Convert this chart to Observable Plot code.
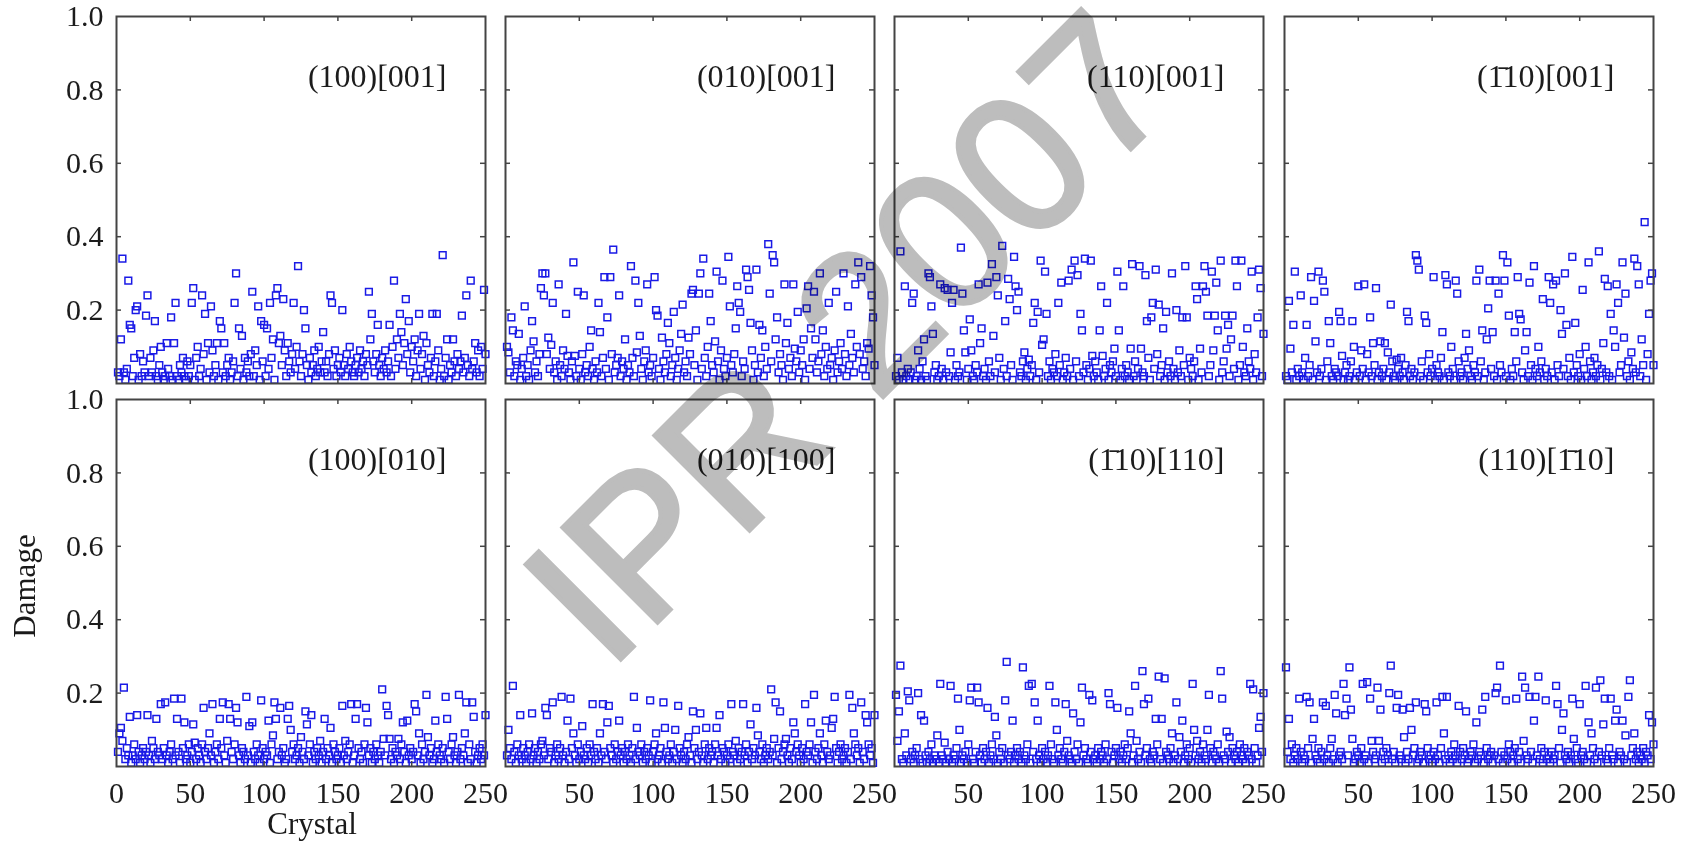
<!DOCTYPE html>
<html>
<head>
<meta charset="utf-8">
<script src="https://cdn.jsdelivr.net/npm/d3@7"></script>
<script src="https://cdn.jsdelivr.net/npm/@observablehq/plot@0.6"></script>
<style>
  html, body { margin: 0; padding: 0; background: #fff; }
  #fig { position: relative; width: 1688px; height: 847px; background: #fff; overflow: hidden; font-family: "Liberation Serif", "Times New Roman", serif; color: #1a1a1a; }
  #fig > svg, #fig > div { position: absolute; }
</style>
</head>
<body>
<div id="fig"></div>
<script>
// ---- data ----
const panelLabels = ["(100)[001]", "(010)[001]", "(110)[001]", "(1\u030410)[001]",
                     "(100)[010]", "(010)[100]", "(1\u030410)[110]", "(110)[1\u030410]"];
const xTicks = [0, 50, 100, 150, 200, 250];
const yTicks = [0.2, 0.4, 0.6, 0.8, 1.0];
const xAxisLabel = "Crystal";
const yAxisLabel = "Damage";
const watermark = "IPR 2007";

const damage100_001 = [
0.03,0.02,0.12,0.34,0.03,0.01,0.04,0.28,0.16,0.15,
0.02,0.07,0.20,0.21,0.01,0.08,0.02,0.06,0.03,0.185,
0.24,0.02,0.07,0.03,0.09,0.17,0.02,0.01,0.05,0.10,
0.03,0.01,0.02,0.11,0.04,0.02,0.18,0.01,0.11,0.22,
0.02,0.01,0.05,0.03,0.07,0.02,0.01,0.06,0.02,0.05,
0.22,0.26,0.01,0.07,0.10,0.02,0.04,0.24,0.08,0.19,
0.01,0.11,0.03,0.21,0.09,0.02,0.05,0.11,0.01,0.17,
0.15,0.03,0.11,0.02,0.05,0.07,0.01,0.03,0.06,0.22,
0.30,0.02,0.15,0.04,0.13,0.01,0.07,0.03,0.06,0.02,
0.08,0.25,0.02,0.09,0.05,0.21,0.01,0.17,0.06,0.16,
0.02,0.15,0.04,0.22,0.07,0.12,0.01,0.24,0.26,0.11,
0.13,0.05,0.23,0.09,0.02,0.11,0.06,0.03,0.08,0.22,
0.04,0.10,0.32,0.06,0.02,0.08,0.20,0.15,0.05,0.01,
0.07,0.03,0.05,0.09,0.02,0.04,0.10,0.03,0.06,0.14,
0.03,0.06,0.02,0.08,0.24,0.22,0.04,0.09,0.02,0.05,
0.07,0.03,0.20,0.05,0.02,0.08,0.04,0.10,0.06,0.03,
0.02,0.05,0.07,0.03,0.09,0.04,0.06,0.02,0.08,0.05,
0.25,0.12,0.19,0.06,0.03,0.08,0.16,0.05,0.02,0.07,
0.04,0.09,0.03,0.06,0.16,0.02,0.10,0.28,0.04,0.12,
0.07,0.19,0.14,0.05,0.11,0.23,0.08,0.17,0.03,0.10,
0.06,0.12,0.02,0.09,0.19,0.04,0.08,0.13,0.01,0.11,
0.05,0.03,0.07,0.19,0.02,0.06,0.19,0.09,0.01,0.04,
0.35,0.02,0.07,0.12,0.01,0.05,0.03,0.12,0.06,0.02,
0.08,0.04,0.06,0.185,0.03,0.07,0.24,0.05,0.02,0.28,
0.04,0.06,0.11,0.03,0.09,0.02,0.10,0.04,0.255,0.08];

const damage010_001 = [
0.10,0.085,0.03,0.18,0.145,0.02,0.06,0.05,0.135,0.01,
0.04,0.07,0.21,0.02,0.05,0.01,0.09,0.17,0.115,0.03,
0.06,0.02,0.08,0.26,0.30,0.24,0.30,0.08,0.125,0.04,
0.105,0.22,0.03,0.06,0.01,0.27,0.05,0.02,0.09,0.04,
0.19,0.075,0.03,0.01,0.06,0.33,0.075,0.02,0.25,0.04,
0.01,0.08,0.24,0.03,0.05,0.02,0.10,0.145,0.04,0.01,
0.06,0.03,0.22,0.14,0.02,0.07,0.29,0.04,0.18,0.01,
0.29,0.08,0.365,0.03,0.05,0.07,0.24,0.02,0.06,0.04,
0.12,0.01,0.05,0.03,0.32,0.07,0.02,0.28,0.085,0.22,
0.13,0.04,0.01,0.06,0.09,0.27,0.03,0.05,0.02,0.07,
0.29,0.20,0.185,0.04,0.01,0.125,0.06,0.03,0.08,0.165,
0.11,0.02,0.05,0.195,0.07,0.01,0.04,0.09,0.135,0.215,
0.03,0.06,0.02,0.125,0.08,0.245,0.255,0.05,0.145,0.01,
0.245,0.30,0.04,0.34,0.07,0.02,0.10,0.245,0.17,0.05,
0.03,0.115,0.305,0.06,0.01,0.09,0.28,0.04,0.02,0.07,
0.345,0.21,0.05,0.03,0.08,0.15,0.265,0.22,0.195,0.02,
0.06,0.04,0.31,0.29,0.255,0.165,0.09,0.01,0.05,0.31,
0.03,0.16,0.07,0.145,0.02,0.10,0.04,0.38,0.245,0.06,
0.35,0.33,0.12,0.18,0.03,0.08,0.05,0.01,0.27,0.11,
0.165,0.04,0.07,0.02,0.27,0.095,0.06,0.195,0.03,0.09,
0.05,0.12,0.01,0.205,0.265,0.04,0.15,0.07,0.25,0.12,
0.03,0.06,0.30,0.08,0.145,0.02,0.10,0.04,0.22,0.05,
0.07,0.01,0.09,0.25,0.03,0.06,0.11,0.04,0.30,0.08,
0.02,0.21,0.05,0.135,0.07,0.03,0.27,0.10,0.33,0.08,
0.29,0.04,0.06,0.02,0.11,0.095,0.32,0.24,0.18,0.05];

const damage110_001 = [
0.02,0.07,0.01,0.36,0.03,0.01,0.265,0.02,0.04,0.01,
0.03,0.22,0.245,0.01,0.02,0.09,0.04,0.01,0.06,0.12,
0.02,0.01,0.30,0.29,0.21,0.135,0.03,0.05,0.01,0.02,
0.27,0.04,0.01,0.26,0.03,0.255,0.02,0.085,0.22,0.255,
0.01,0.05,0.02,0.03,0.37,0.245,0.145,0.085,0.01,0.04,
0.175,0.09,0.02,0.01,0.05,0.03,0.27,0.11,0.15,0.02,
0.04,0.01,0.275,0.06,0.02,0.325,0.13,0.03,0.29,0.24,
0.07,0.01,0.375,0.04,0.17,0.02,0.285,0.23,0.05,0.01,
0.345,0.265,0.20,0.25,0.03,0.02,0.06,0.085,0.01,0.04,
0.065,0.02,0.05,0.165,0.22,0.01,0.195,0.03,0.335,0.105,
0.12,0.305,0.19,0.02,0.06,0.01,0.04,0.03,0.08,0.02,
0.22,0.05,0.275,0.01,0.03,0.07,0.02,0.28,0.04,0.31,
0.01,0.335,0.06,0.295,0.02,0.19,0.145,0.03,0.34,0.05,
0.01,0.04,0.335,0.075,0.02,0.06,0.03,0.01,0.145,0.265,
0.075,0.02,0.04,0.22,0.01,0.05,0.03,0.06,0.095,0.02,
0.305,0.145,0.01,0.04,0.265,0.02,0.05,0.03,0.01,0.095,
0.325,0.02,0.06,0.01,0.04,0.32,0.095,0.03,0.02,0.295,
0.17,0.07,0.01,0.18,0.22,0.04,0.31,0.08,0.215,0.02,
0.05,0.15,0.01,0.195,0.03,0.06,0.02,0.30,0.04,0.01,
0.20,0.03,0.09,0.02,0.18,0.05,0.32,0.18,0.01,0.07,
0.04,0.02,0.06,0.265,0.23,0.01,0.095,0.03,0.265,0.32,
0.25,0.185,0.02,0.05,0.305,0.09,0.185,0.275,0.145,0.01,
0.335,0.03,0.06,0.185,0.095,0.16,0.02,0.12,0.185,0.04,
0.335,0.265,0.01,0.05,0.335,0.10,0.03,0.02,0.15,0.06,
0.04,0.305,0.01,0.08,0.03,0.18,0.31,0.26,0.02,0.135];

const damage1b10_001 = [
0.02,0.01,0.225,0.095,0.03,0.16,0.305,0.01,0.04,0.02,
0.24,0.03,0.01,0.07,0.16,0.02,0.05,0.29,0.01,0.225,
0.115,0.03,0.305,0.02,0.04,0.28,0.25,0.01,0.06,0.17,
0.11,0.02,0.01,0.04,0.03,0.02,0.195,0.17,0.075,0.01,
0.03,0.05,0.01,0.02,0.06,0.17,0.10,0.01,0.03,0.265,
0.02,0.09,0.04,0.27,0.01,0.08,0.03,0.18,0.02,0.11,
0.05,0.26,0.01,0.03,0.115,0.02,0.04,0.11,0.01,0.085,
0.03,0.215,0.06,0.02,0.01,0.065,0.04,0.02,0.07,0.03,
0.01,0.05,0.195,0.17,0.02,0.04,0.01,0.03,0.35,0.335,
0.31,0.02,0.06,0.01,0.185,0.165,0.03,0.08,0.02,0.04,
0.29,0.01,0.05,0.03,0.02,0.07,0.14,0.01,0.295,0.27,
0.03,0.02,0.10,0.04,0.01,0.28,0.245,0.06,0.02,0.03,
0.01,0.07,0.135,0.04,0.09,0.02,0.01,0.05,0.03,0.28,
0.02,0.31,0.06,0.145,0.01,0.03,0.12,0.205,0.28,0.04,
0.14,0.02,0.28,0.01,0.245,0.05,0.03,0.35,0.28,0.02,
0.33,0.185,0.01,0.04,0.02,0.14,0.06,0.29,0.19,0.175,
0.03,0.01,0.09,0.14,0.02,0.275,0.05,0.01,0.32,0.04,
0.02,0.10,0.03,0.06,0.23,0.01,0.04,0.02,0.29,0.22,
0.03,0.27,0.01,0.28,0.05,0.02,0.20,0.135,0.04,0.30,
0.16,0.02,0.07,0.01,0.345,0.03,0.165,0.05,0.02,0.08,
0.01,0.255,0.04,0.10,0.02,0.33,0.06,0.01,0.03,0.07,
0.02,0.05,0.36,0.01,0.04,0.11,0.285,0.03,0.265,0.02,
0.19,0.01,0.145,0.10,0.27,0.22,0.03,0.05,0.33,0.125,
0.245,0.02,0.06,0.01,0.085,0.04,0.34,0.03,0.32,0.27,
0.02,0.12,0.05,0.44,0.01,0.08,0.19,0.28,0.30,0.05];

const damage100_010 = [
0.04,0.09,0.105,0.07,0.215,0.02,0.05,0.03,0.135,0.01,
0.03,0.06,0.02,0.14,0.04,0.01,0.03,0.05,0.02,0.04,
0.14,0.03,0.01,0.07,0.05,0.02,0.13,0.04,0.03,0.17,
0.02,0.05,0.175,0.03,0.01,0.04,0.06,0.02,0.185,0.03,
0.13,0.04,0.01,0.185,0.05,0.12,0.02,0.03,0.06,0.01,
0.04,0.115,0.065,0.02,0.05,0.03,0.01,0.06,0.16,0.04,
0.02,0.05,0.09,0.03,0.17,0.01,0.04,0.06,0.02,0.13,
0.05,0.175,0.03,0.01,0.07,0.17,0.13,0.04,0.02,0.06,
0.16,0.12,0.03,0.01,0.05,0.04,0.02,0.19,0.03,0.11,
0.01,0.12,0.04,0.02,0.06,0.03,0.01,0.18,0.05,0.02,
0.04,0.03,0.125,0.01,0.06,0.085,0.175,0.13,0.02,0.04,
0.16,0.03,0.05,0.01,0.02,0.13,0.165,0.10,0.04,0.06,
0.02,0.03,0.05,0.01,0.08,0.04,0.02,0.15,0.115,0.03,
0.06,0.14,0.01,0.04,0.02,0.05,0.03,0.07,0.01,0.04,
0.13,0.02,0.05,0.03,0.105,0.01,0.06,0.04,0.02,0.03,
0.05,0.01,0.165,0.03,0.07,0.02,0.04,0.06,0.17,0.01,
0.03,0.13,0.17,0.05,0.02,0.04,0.01,0.06,0.16,0.12,
0.03,0.05,0.01,0.04,0.02,0.06,0.03,0.01,0.04,0.21,
0.075,0.03,0.165,0.14,0.075,0.02,0.05,0.01,0.04,0.03,
0.075,0.02,0.06,0.12,0.04,0.01,0.125,0.03,0.05,0.02,
0.04,0.17,0.15,0.03,0.09,0.01,0.06,0.02,0.04,0.195,
0.08,0.03,0.05,0.01,0.02,0.125,0.04,0.06,0.03,0.02,
0.05,0.01,0.19,0.13,0.04,0.02,0.06,0.08,0.03,0.01,
0.04,0.195,0.02,0.05,0.03,0.09,0.175,0.01,0.06,0.02,
0.175,0.135,0.04,0.01,0.03,0.05,0.02,0.06,0.03,0.14];

const damage010_100 = [
0.03,0.10,0.05,0.02,0.22,0.04,0.01,0.06,0.03,0.14,
0.02,0.05,0.03,0.01,0.04,0.06,0.02,0.145,0.03,0.05,
0.01,0.04,0.02,0.06,0.07,0.03,0.16,0.14,0.02,0.05,
0.04,0.175,0.01,0.03,0.06,0.02,0.05,0.19,0.03,0.01,
0.04,0.125,0.02,0.185,0.05,0.09,0.03,0.01,0.06,0.02,
0.04,0.11,0.03,0.02,0.05,0.01,0.06,0.03,0.17,0.04,
0.02,0.05,0.01,0.09,0.03,0.17,0.04,0.02,0.12,0.165,
0.05,0.03,0.01,0.06,0.02,0.04,0.125,0.03,0.05,0.01,
0.04,0.02,0.06,0.03,0.01,0.05,0.19,0.02,0.105,0.04,
0.03,0.06,0.01,0.04,0.02,0.05,0.03,0.18,0.01,0.04,
0.06,0.09,0.02,0.03,0.05,0.01,0.175,0.105,0.04,0.02,
0.03,0.06,0.01,0.04,0.10,0.02,0.165,0.05,0.03,0.01,
0.04,0.02,0.06,0.08,0.03,0.01,0.15,0.05,0.10,0.02,
0.04,0.145,0.03,0.01,0.06,0.105,0.02,0.05,0.03,0.04,
0.01,0.06,0.105,0.03,0.14,0.02,0.05,0.04,0.01,0.03,
0.06,0.02,0.17,0.04,0.03,0.07,0.01,0.05,0.02,0.04,
0.17,0.03,0.06,0.01,0.04,0.115,0.02,0.05,0.03,0.16,
0.085,0.04,0.02,0.06,0.01,0.03,0.05,0.02,0.04,0.21,
0.03,0.075,0.175,0.01,0.05,0.15,0.02,0.04,0.06,0.075,
0.03,0.01,0.05,0.02,0.12,0.09,0.04,0.06,0.03,0.01,
0.05,0.02,0.17,0.04,0.03,0.06,0.12,0.01,0.195,0.04,
0.02,0.05,0.09,0.03,0.01,0.06,0.125,0.04,0.02,0.03,
0.105,0.13,0.19,0.05,0.01,0.04,0.06,0.02,0.03,0.05,
0.01,0.04,0.195,0.02,0.16,0.09,0.06,0.03,0.05,0.01,
0.175,0.04,0.02,0.14,0.12,0.06,0.03,0.05,0.01,0.14];

const damage1b10_110 = [
0.195,0.07,0.15,0.275,0.02,0.01,0.09,0.03,0.205,0.18,
0.02,0.04,0.01,0.03,0.05,0.20,0.02,0.14,0.01,0.125,
0.03,0.01,0.04,0.02,0.06,0.01,0.03,0.02,0.085,0.01,
0.225,0.03,0.02,0.065,0.01,0.04,0.02,0.22,0.01,0.03,
0.02,0.05,0.185,0.10,0.01,0.03,0.02,0.04,0.01,0.06,
0.18,0.215,0.02,0.01,0.04,0.215,0.175,0.03,0.01,0.05,
0.02,0.04,0.16,0.01,0.03,0.06,0.02,0.135,0.085,0.01,
0.04,0.02,0.05,0.01,0.18,0.285,0.03,0.02,0.04,0.125,
0.01,0.03,0.05,0.02,0.04,0.01,0.27,0.03,0.02,0.06,
0.22,0.01,0.225,0.04,0.175,0.02,0.125,0.03,0.01,0.05,
0.02,0.04,0.01,0.03,0.22,0.06,0.02,0.01,0.175,0.10,
0.03,0.05,0.02,0.01,0.04,0.17,0.07,0.03,0.02,0.01,
0.145,0.04,0.02,0.06,0.01,0.12,0.215,0.03,0.05,0.02,
0.01,0.195,0.04,0.18,0.02,0.03,0.01,0.05,0.02,0.04,
0.03,0.01,0.06,0.02,0.20,0.17,0.04,0.01,0.03,0.05,
0.16,0.02,0.04,0.01,0.03,0.06,0.02,0.05,0.15,0.09,
0.01,0.03,0.22,0.07,0.02,0.04,0.01,0.26,0.17,0.03,
0.05,0.185,0.02,0.01,0.04,0.03,0.13,0.06,0.245,0.02,
0.13,0.01,0.24,0.04,0.03,0.02,0.05,0.09,0.01,0.03,
0.175,0.02,0.08,0.04,0.125,0.01,0.03,0.06,0.02,0.05,
0.01,0.225,0.10,0.03,0.07,0.02,0.04,0.01,0.06,0.03,
0.02,0.10,0.195,0.05,0.01,0.04,0.03,0.02,0.06,0.01,
0.26,0.185,0.03,0.02,0.095,0.04,0.08,0.01,0.05,0.03,
0.02,0.04,0.01,0.06,0.03,0.02,0.05,0.01,0.04,0.03,
0.225,0.02,0.21,0.05,0.01,0.03,0.105,0.135,0.04,0.20];

const damage110_1b10 = [
0.27,0.04,0.13,0.02,0.06,0.01,0.03,0.05,0.02,0.185,
0.04,0.01,0.03,0.02,0.19,0.05,0.175,0.01,0.075,0.13,
0.03,0.02,0.05,0.01,0.04,0.175,0.02,0.165,0.03,0.01,
0.05,0.075,0.02,0.195,0.145,0.01,0.03,0.04,0.02,0.225,
0.14,0.185,0.03,0.27,0.155,0.075,0.01,0.02,0.04,0.03,
0.01,0.05,0.225,0.02,0.03,0.23,0.01,0.185,0.07,0.04,
0.02,0.03,0.215,0.07,0.155,0.01,0.04,0.02,0.05,0.03,
0.20,0.275,0.02,0.04,0.01,0.16,0.195,0.03,0.02,0.155,
0.08,0.01,0.04,0.02,0.16,0.10,0.03,0.05,0.175,0.01,
0.02,0.04,0.03,0.01,0.17,0.15,0.05,0.02,0.03,0.01,
0.04,0.02,0.175,0.03,0.01,0.05,0.19,0.09,0.02,0.19,
0.03,0.01,0.04,0.02,0.06,0.03,0.01,0.165,0.04,0.02,
0.05,0.03,0.15,0.01,0.02,0.04,0.03,0.06,0.01,0.12,
0.02,0.04,0.03,0.155,0.01,0.19,0.05,0.02,0.03,0.04,
0.01,0.03,0.20,0.215,0.02,0.275,0.04,0.01,0.03,0.18,
0.02,0.06,0.04,0.01,0.03,0.05,0.185,0.02,0.04,0.01,
0.245,0.07,0.215,0.03,0.02,0.19,0.04,0.01,0.125,0.19,
0.03,0.245,0.02,0.05,0.01,0.04,0.18,0.02,0.03,0.01,
0.04,0.02,0.03,0.22,0.17,0.05,0.01,0.10,0.145,0.03,
0.02,0.04,0.01,0.03,0.185,0.075,0.02,0.05,0.01,0.17,
0.03,0.04,0.02,0.22,0.01,0.12,0.03,0.09,0.05,0.02,
0.215,0.01,0.04,0.235,0.03,0.115,0.185,0.02,0.01,0.05,
0.185,0.03,0.02,0.125,0.155,0.01,0.04,0.03,0.125,0.02,
0.085,0.01,0.19,0.235,0.03,0.05,0.09,0.02,0.04,0.01,
0.03,0.02,0.05,0.01,0.04,0.03,0.14,0.02,0.12,0.06];

const panelSeries = [damage100_001, damage010_001, damage110_001, damage1b10_001,
                     damage100_010, damage010_100, damage1b10_110, damage110_1b10];

// ---- layout ----
const fig = document.getElementById("fig");
const panelLefts = [116, 505, 894, 1284];
const panelTops = [16, 399];
const W = 369, H = 367;
const ink = "#1c1c1c";
const frameColor = "#444";
const dotColor = "#1a1ae6";
const innerX = xTicks.slice(1, -1);
const innerY = yTicks.slice(0, -1);

panelSeries.forEach((series, k) => {
  const row = k < 4 ? 0 : 1, col = k % 4;
  const ml = col === 0 ? 110 : 6, mr = 6, mt = 6, mb = row === 1 ? 60 : 6;
  const data = series.map((v, i) => ({crystal: i + 1, damage: v}));
  const marks = [
    Plot.dot(data, {x: "crystal", y: "damage", symbol: "square", r: 3.8, stroke: dotColor, strokeWidth: 1.5, fill: "none"}),
    Plot.tickX(innerX, {x: d => d, insetBottom: H - 5, stroke: frameColor, strokeWidth: 1.5}),
    Plot.tickX(innerX, {x: d => d, insetTop: H - 5, stroke: frameColor, strokeWidth: 1.5}),
    Plot.tickY(innerY, {y: d => d, insetRight: W - 5, stroke: frameColor, strokeWidth: 1.5}),
    Plot.tickY(innerY, {y: d => d, insetLeft: W - 5, stroke: frameColor, strokeWidth: 1.5}),
    Plot.frame({stroke: frameColor, strokeWidth: 2}),
    Plot.text([panelLabels[k]], {frameAnchor: "top-right", textAnchor: "end", lineAnchor: "middle",
      dx: -39, dy: 60, fontSize: 32, fill: ink})
  ];
  if (col === 0) {
    marks.push(Plot.axisY({ticks: yTicks, tickFormat: d3.format(".1f"), tickSize: 0, tickPadding: 13,
      fontSize: 30, fill: ink, label: null}));
  }
  if (row === 1) {
    marks.push(Plot.axisX({ticks: col === 0 ? xTicks : xTicks.slice(1), tickFormat: d => String(d),
      tickSize: 0, tickPadding: 15, fontSize: 30, fill: ink, label: null}));
  }
  const svg = Plot.plot({
    width: W + ml + mr, height: H + mt + mb,
    marginLeft: ml, marginRight: mr, marginTop: mt, marginBottom: mb,
    x: {domain: [0, 250], axis: null},
    y: {domain: [0, 1], axis: null},
    style: {background: "transparent", overflow: "visible", fontFamily: "'Liberation Serif', 'Times New Roman', serif", fontSize: "30px", color: ink, maxWidth: "none"},
    marks
  });
  svg.style.left = (panelLefts[col] - ml) + "px";
  svg.style.top = (panelTops[row] - mt) + "px";
  fig.appendChild(svg);
});

// axis titles
const xt = document.createElement("div");
xt.textContent = xAxisLabel;
Object.assign(xt.style, {left: "312px", top: "824px", transform: "translate(-50%,-50%)", fontSize: "31px", whiteSpace: "nowrap"});
fig.appendChild(xt);
const yt = document.createElement("div");
yt.textContent = yAxisLabel;
Object.assign(yt.style, {left: "25px", top: "586px", transform: "translate(-50%,-50%) rotate(-90deg)", fontSize: "31px", whiteSpace: "nowrap"});
fig.appendChild(yt);

// watermark
const ns = "http://www.w3.org/2000/svg";
const wm = document.createElementNS(ns, "svg");
wm.setAttribute("width", 1688); wm.setAttribute("height", 847);
Object.assign(wm.style, {left: "0px", top: "0px", mixBlendMode: "multiply", pointerEvents: "none"});
const wt = document.createElementNS(ns, "text");
wt.textContent = watermark;
wt.setAttribute("transform", "translate(608,672) rotate(-45)");
wt.setAttribute("font-family", "'Liberation Sans', Arial, sans-serif");
wt.setAttribute("font-size", 195);
wt.setAttribute("fill", "#bdbdbd");
wt.setAttribute("stroke", "#bdbdbd");
wt.setAttribute("stroke-width", 4.5);
wt.setAttribute("stroke-linejoin", "miter");
wm.appendChild(wt);
fig.appendChild(wm);
</script>
</body>
</html>
